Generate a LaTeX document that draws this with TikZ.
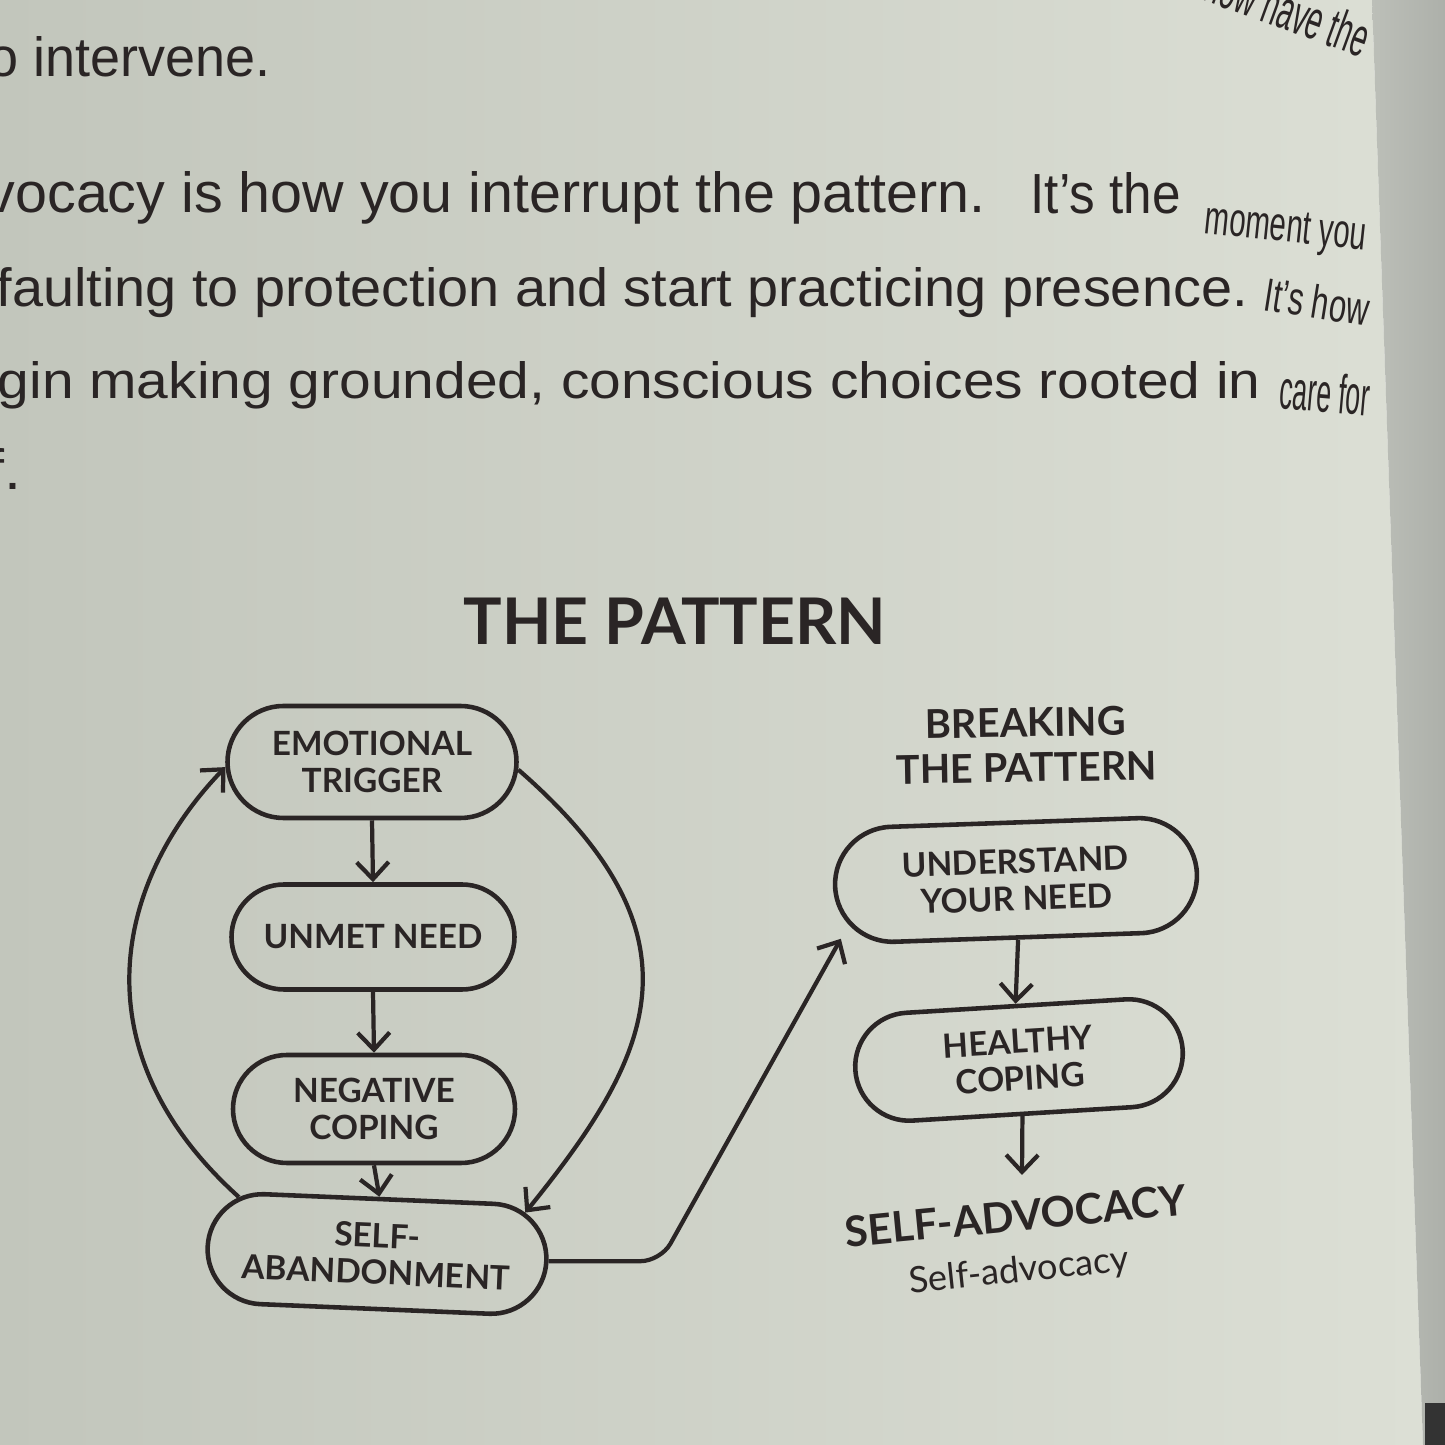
\documentclass[tikz,border=0pt]{standalone}
\usepackage{fontspec}
\usepackage{graphicx}
\usetikzlibrary{shapes.misc,arrows.meta}
\newfontfamily\diagfont{Lato}
\newfontfamily\pagefont{Liberation Sans}
\definecolor{ink}{HTML}{2A2525}
\definecolor{pageL}{HTML}{C2C6BC}
\definecolor{pageR}{HTML}{DCDFD5}
\definecolor{spineL}{HTML}{BCBFB8}
\definecolor{spineR}{HTML}{ADB0AA}
% one printed line of the page, squeezed to the width and height it has in the photo
\newcommand{\pageline}[3]{\resizebox{#1}{#2}{\pagefont #3}}

\begin{document}
\begin{tikzpicture}[x=0.1mm, y=0.1mm,
    stage/.style={rounded rectangle, draw=ink, line width=1.3pt, inner sep=0pt,
        align=center, text=ink, font=\diagfont\bfseries\fontsize{9.5}{10.5}\selectfont},
    flow/.style={draw=ink, line width=1.2pt, -{Straight Barb[length=1.7mm, width=3.2mm]}},
    body/.style={anchor=base west, inner sep=0pt, text=ink}]
    \useasboundingbox (0,0) rectangle (1445,1445);
    \clip (0,0) rectangle (1445,1445);
    % paper and spine
    \shade[left color=pageL, right color=pageR] (0,0) -- (1423,0) -- (1372,1445) -- (0,1445) -- cycle;
    \shade[left color=spineL, right color=spineR] (1423,0) -- (1445,0) -- (1445,1445) -- (1372,1445) -- cycle;
    \fill[black!80] (1425,0) rectangle (1445,42);

    % running text of the page
    \node[body, rotate=-20, anchor=base east] (l0) at (1362,1387) {\pageline{17mm}{4mm}{now have the}};
    \node[body] (l1) at (-12,1368) {\pageline{28.2mm}{4mm}{o intervene.}};
    \node[body] (l2) at (-14,1232) {\pageline{99.9mm}{4.1mm}{vocacy is how you interrupt the pattern.}};
    \node[body] (l2b) at (1030,1231) {\pageline{15mm}{4.1mm}{It’s the}};
    \node[body, rotate=-6] (l2c) at (1203,1212) {\pageline{16.2mm}{3.1mm}{moment you}};
    \node[body] (l3) at (-4,1138) {\pageline{125.1mm}{3.9mm}{faulting to protection and start practicing presence.}};
    \node[body, rotate=-9] (l3b) at (1262,1135) {\pageline{10.5mm}{3.4mm}{It’s how}};
    \node[body] (l4) at (-3,1046) {\pageline{126.3mm}{3.7mm}{gin making grounded, conscious choices rooted in}};
    \node[body, rotate=-5] (l4b) at (1278,1037) {\pageline{9mm}{4mm}{care for}};
    \node[body] (l5) at (-13,955) {\pageline{3.4mm}{4.1mm}{f.}};

    % the pattern
    \node[anchor=base, text=ink, font=\diagfont\bfseries\fontsize{18.3}{22}\selectfont] (title) at (675,800) {THE PATTERN};
    \node[stage, minimum width=28.9mm, minimum height=11.2mm] (ET) at (372,683) {EMOTIONAL\\TRIGGER};
    \node[stage, minimum width=28.3mm, minimum height=10.5mm] (UN) at (373,508) {UNMET NEED};
    \node[stage, minimum width=28.2mm, minimum height=10.8mm] (NC) at (374,336) {NEGATIVE\\COPING};
    \node[stage, minimum width=33.9mm, minimum height=11mm, rotate=-2.4] (SA) at (377,191) {SELF-\\ABANDONMENT};

    \draw[flow] (ET.south) -- (UN.north);
    \draw[flow] (UN.south) -- (NC.north);
    \draw[flow] (NC.south) -- (SA.north);
    \draw[flow] (SA.160) .. controls +(138:220) and +(-134:157) .. (ET.182);
    \draw[flow] (ET.-3) .. controls +(-41:256) and +(51:201) .. (SA.18);

    % breaking the pattern
    \node[align=center, text=ink, rotate=1, font=\diagfont\bfseries\fontsize{11.3}{12.8}\selectfont] (brk) at (1026,700) {BREAKING\\THE PATTERN};
    \node[stage, minimum width=36.2mm, minimum height=11.5mm, rotate=2] (UYN) at (1016,565) {UNDERSTAND\\YOUR NEED};
    \node[stage, minimum width=32.8mm, minimum height=10.8mm, rotate=3.5] (HC) at (1019,385) {HEALTHY\\COPING};
    \coordinate (advtop) at (1022,270);
    \node[anchor=base, text=ink, rotate=5.5, font=\diagfont\bfseries\fontsize{12}{14}\selectfont] (adv) at (1017,214) {SELF-ADVOCACY};
    \node[anchor=base, text=ink, rotate=6, font=\diagfont\fontsize{10.3}{12}\selectfont] (advsub) at (1020,163) {Self-advocacy};

    \draw[flow] (UYN.south) -- (HC.north);
    \draw[flow] (HC.south) -- (advtop);
    \draw[flow, rounded corners=2mm, shorten >=1.6mm] (SA.east) -- ++(112,0) -- (UYN.193);
\end{tikzpicture}
\end{document}
